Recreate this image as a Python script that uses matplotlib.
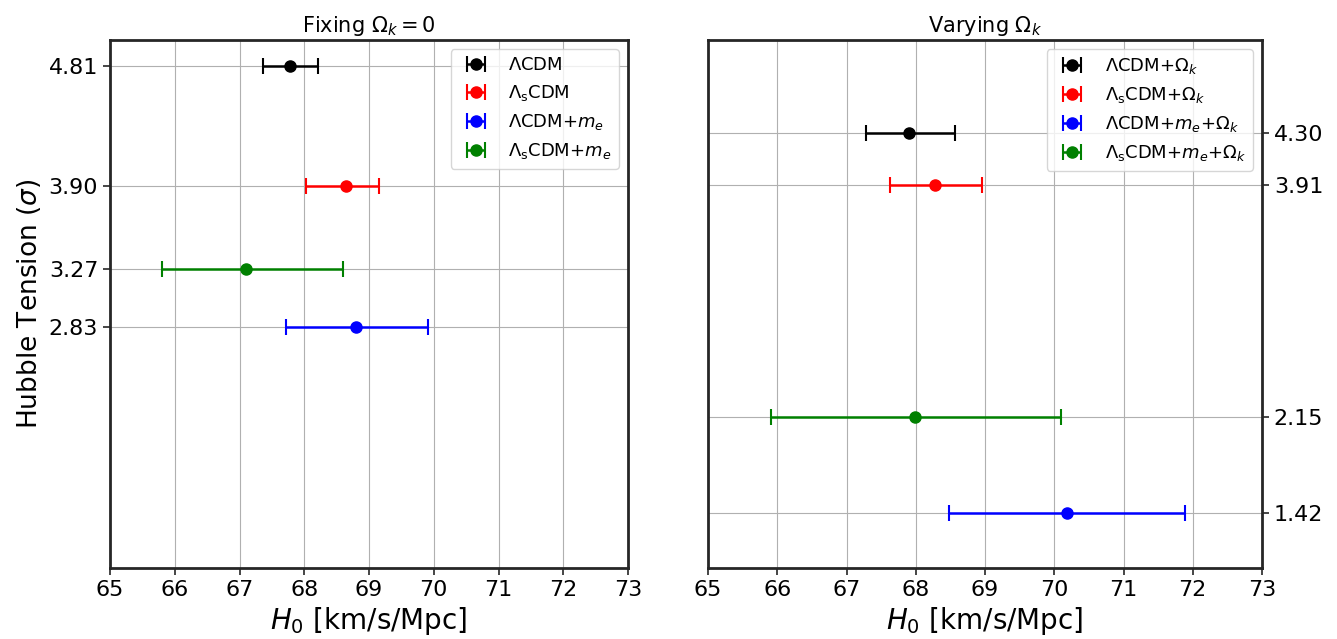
import matplotlib
matplotlib.use("Agg")
import matplotlib.pyplot as plt
import numpy as np

# Left panel: Fixing Omega_k = 0
left_labels = [r"$\Lambda$CDM", r"$\Lambda_{\mathrm{s}}$CDM", r"$\Lambda$CDM+$m_e$", r"$\Lambda_{\mathrm{s}}$CDM+$m_e$"]
left_h0 = [67.78, 68.64, 68.80, 67.10]
left_lo = [67.36, 68.03, 67.72, 65.80]
left_hi = [68.21, 69.15, 69.91, 68.60]
left_tension = [4.81, 3.90, 2.83, 3.27]

# Right panel: Varying Omega_k
right_labels = [r"$\Lambda$CDM+$\Omega_k$", r"$\Lambda_{\mathrm{s}}$CDM+$\Omega_k$",
                r"$\Lambda$CDM+$m_e$+$\Omega_k$", r"$\Lambda_{\mathrm{s}}$CDM+$m_e$+$\Omega_k$"]
right_h0 = [67.90, 68.28, 70.18, 67.99]
right_lo = [67.28, 67.63, 68.48, 65.91]
right_hi = [68.57, 68.96, 71.89, 70.10]
right_tension = [4.30, 3.91, 1.42, 2.15]

colors = ["black", "red", "blue", "green"]
xticks = [65, 66, 67, 68, 69, 70, 71, 72, 73]

fig = plt.figure(figsize=(13.37, 6.39), dpi=100)
axL = fig.add_axes([110/1337, 71/639, 518/1337, 528/639])
axR = fig.add_axes([708/1337, 71/639, 554/1337, 528/639])

def panel(ax, h0, lo, hi, ten, labels, title):
    for i in range(len(h0)):
        err = np.array([[h0[i] - lo[i]], [hi[i] - h0[i]]])
        ax.errorbar([h0[i]], [ten[i]], xerr=err, fmt="o", color=colors[i],
                    ecolor=colors[i], markersize=8, capsize=6, elinewidth=1.8,
                    capthick=1.5, label=labels[i], zorder=3)
    ax.set_xlim(65, 73)
    ax.set_ylim(1.0, 5.01)
    ax.set_xticks(xticks)
    ax.set_yticks(ten)
    ax.set_yticklabels([f"{t:.2f}" for t in ten])
    ax.grid(True, color="#b0b0b0", linewidth=0.8, zorder=0)
    ax.set_axisbelow(True)
    for s in ax.spines.values():
        s.set_color("#262626")
        s.set_linewidth(2.0)
    ax.tick_params(labelsize=16, length=5, width=1.2, color="#262626")
    ax.set_xlabel(r"$H_0$ [km/s/Mpc]", fontsize=20)
    ax.set_title(title, fontsize=15)
    ax.legend(loc="upper right", fontsize=13, framealpha=0.8)

panel(axL, left_h0, left_lo, left_hi, left_tension, left_labels, r"Fixing $\Omega_k = 0$")
panel(axR, right_h0, right_lo, right_hi, right_tension, right_labels, r"Varying $\Omega_k$")
axL.set_ylabel(r"Hubble Tension ($\sigma$)", fontsize=19)
axR.yaxis.tick_right()

fig.savefig("out.png", dpi=100)
